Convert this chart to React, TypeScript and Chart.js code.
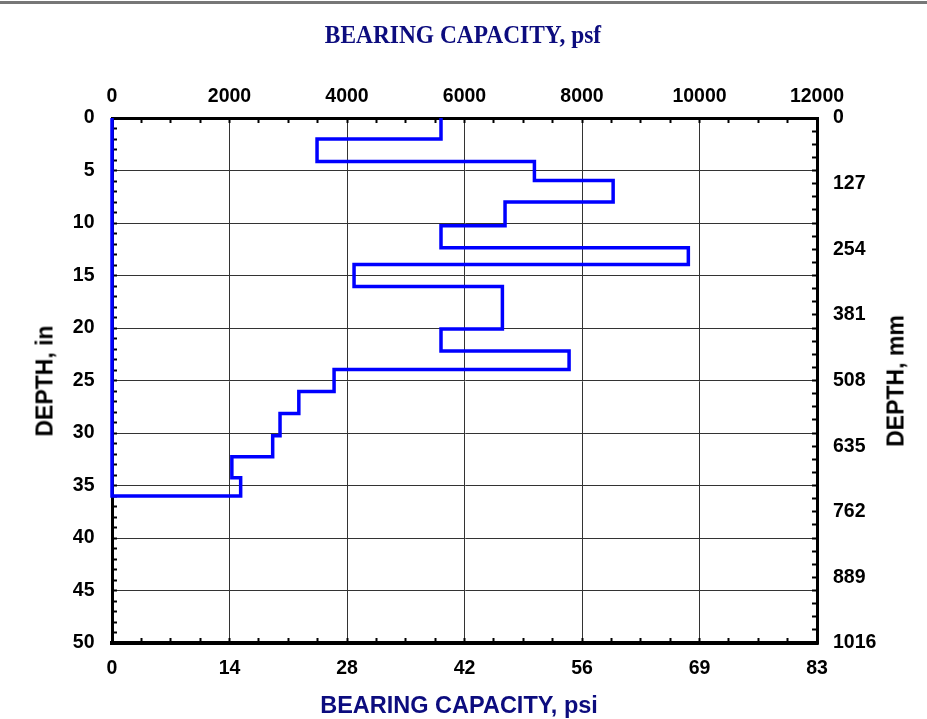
import React, { useEffect, useRef } from 'react';
import { Chart, registerables } from 'chart.js';

Chart.register(...registerables);

// ---- Data ----
// Depth layer boundaries, inches (top of each layer) and the final bottom depth
const layerTopIn = [0, 2, 4.15, 5.95, 8, 10.25, 12.35, 13.95, 16.05, 20.1, 22.2, 23.95, 26.05, 28.15, 30.25, 32.25, 34.25];
const finalDepthIn = 36;
// Bearing capacity of each layer, psf
const bearingPsf = [5600, 3490, 7190, 8530, 6690, 5600, 9810, 4120, 6645, 5600, 7780, 3780, 3180, 2860, 2735, 2040, 2190];

// ---- Axis ticks / labels ----
const psfMajorTicks = [0, 2000, 4000, 6000, 8000, 10000, 12000];
const psfMinorStep = 500;
const psiTickLabels = ['0', '14', '28', '42', '56', '69', '83'];
const depthMajorTicks = [0, 5, 10, 15, 20, 25, 30, 35, 40, 45, 50];
const depthMinorStep = 1;
const mmTickLabels = ['0', '127', '254', '381', '508', '635', '762', '889', '1016'];
const mmMax = 1016;
const mmMinorStep = 25.4;

const topTitle = 'BEARING CAPACITY, psf';
const bottomTitle = 'BEARING CAPACITY, psi';
const leftTitle = 'DEPTH, in';
const rightTitle = 'DEPTH, mm';

function buildStepProfile() {
  const pts: { x: number; y: number }[] = [];
  const n = bearingPsf.length;
  for (let i = 0; i < n; i++) {
    const top = layerTopIn[i];
    const bottom = i + 1 < n ? layerTopIn[i + 1] : finalDepthIn;
    pts.push({ x: bearingPsf[i], y: top });
    pts.push({ x: bearingPsf[i], y: bottom });
  }
  pts.push({ x: 0, y: finalDepthIn });
  pts.push({ x: 0, y: 0 });
  return pts;
}

function range(min: number, max: number, step: number) {
  const out: number[] = [];
  const count = Math.round((max - min) / step);
  for (let i = 0; i <= count; i++) out.push(Math.round((min + i * step) * 1000) / 1000);
  return out;
}

const NAVY = '#0c0c7e';
const GRID = '#333333';
const tickFont = { family: "'Liberation Sans', Arial, sans-serif", size: 19.5, weight: 'bold' as const };

export default function App() {
  const canvasRef = useRef<HTMLCanvasElement | null>(null);

  useEffect(() => {
    const canvas = canvasRef.current;
    if (!canvas) return;
    const psfMax = psfMajorTicks[psfMajorTicks.length - 1];
    const depthMax = depthMajorTicks[depthMajorTicks.length - 1];
    const psfTicks = range(0, psfMax, psfMinorStep);
    const depthTicks = range(0, depthMax, depthMinorStep);
    const mmTicks = range(0, mmMax, mmMinorStep);
    const isPsfMajor = (v: number) => psfMajorTicks.indexOf(v) >= 0;
    const isDepthMajor = (v: number) => depthMajorTicks.indexOf(v) >= 0;
    const mmMajorIndex = (v: number) => {
      const k = v / 127;
      return Math.abs(k - Math.round(k)) < 1e-6 ? Math.round(k) : -1;
    };

    const chart = new Chart(canvas, {
      type: 'scatter',
      data: {
        datasets: [
          {
            data: buildStepProfile(),
            showLine: true,
            borderColor: '#0000ff',
            backgroundColor: '#0000ff',
            borderWidth: 3.5,
            pointRadius: 0,
            pointHoverRadius: 0,
            fill: false,
            tension: 0,
            clip: false as any,
            xAxisID: 'x',
            yAxisID: 'y',
          } as any,
        ],
      },
      options: {
        responsive: false,
        animation: false,
        devicePixelRatio: 1,
        layout: { padding: 0 },
        events: [],
        plugins: {
          legend: { display: false },
          tooltip: { enabled: false },
          title: { display: false },
        },
        scales: {
          x: {
            type: 'linear',
            position: 'top',
            min: 0,
            max: psfMax,
            afterBuildTicks: (s: any) => {
              s.ticks = psfTicks.map((v) => ({ value: v }));
            },
            afterFit: (s: any) => {
              s.height = 118;
            },
            ticks: {
              autoSkip: false,
              maxRotation: 0,
              minRotation: 0,
              padding: 14.5,
              color: '#000',
              font: tickFont,
              callback: (v: any) => (isPsfMajor(Number(v)) ? String(v) : ''),
            },
            grid: {
              color: (c: any) => (c.tick && isPsfMajor(c.tick.value) ? GRID : 'rgba(0,0,0,0)'),
              lineWidth: 1,
              tickLength: -5,
              tickColor: '#000',
              tickWidth: 2,
            },
            border: { display: true, color: '#000', width: 3 },
          },
          x2: {
            type: 'linear',
            position: 'bottom',
            min: 0,
            max: psfMax,
            afterBuildTicks: (s: any) => {
              s.ticks = psfTicks.map((v) => ({ value: v }));
            },
            afterFit: (s: any) => {
              s.height = 76;
            },
            ticks: {
              autoSkip: false,
              maxRotation: 0,
              minRotation: 0,
              padding: 18.5,
              color: '#000',
              font: tickFont,
              callback: (v: any) => {
                const i = psfMajorTicks.indexOf(Number(v));
                return i >= 0 ? psiTickLabels[i] : '';
              },
            },
            grid: {
              drawOnChartArea: false,
              tickLength: -5,
              tickColor: '#000',
              tickWidth: 2,
            },
            border: { display: true, color: '#000', width: 4 },
          },
          y: {
            type: 'linear',
            position: 'left',
            reverse: true,
            min: 0,
            max: depthMax,
            afterBuildTicks: (s: any) => {
              s.ticks = depthTicks.map((v) => ({ value: v }));
            },
            afterFit: (s: any) => {
              s.width = 112;
            },
            ticks: {
              autoSkip: false,
              padding: 22.5,
              color: '#000',
              font: tickFont,
              callback: (v: any) => (isDepthMajor(Number(v)) ? String(v) : ''),
            },
            grid: {
              color: (c: any) => (c.tick && isDepthMajor(c.tick.value) ? GRID : 'rgba(0,0,0,0)'),
              lineWidth: 1,
              tickLength: -5,
              tickColor: '#000',
              tickWidth: 2,
            },
            border: { display: true, color: '#000', width: 3 },
          },
          y2: {
            type: 'linear',
            position: 'right',
            reverse: true,
            min: 0,
            max: mmMax,
            afterBuildTicks: (s: any) => {
              s.ticks = mmTicks.map((v) => ({ value: v }));
            },
            afterFit: (s: any) => {
              s.width = 110;
            },
            ticks: {
              autoSkip: false,
              padding: 21,
              color: '#000',
              font: tickFont,
              callback: (v: any) => {
                const i = mmMajorIndex(Number(v));
                return i >= 0 ? mmTickLabels[i] : '';
              },
            },
            grid: {
              drawOnChartArea: false,
              tickLength: -5,
              tickColor: '#000',
              tickWidth: 2,
            },
            border: { display: true, color: '#000', width: 3 },
          },
        },
      } as any,
    });
    return () => chart.destroy();
  }, []);

  const sans = "'Liberation Sans', Arial, sans-serif";
  const serif = "'Liberation Serif', 'Times New Roman', serif";
  const label = (
    text: string,
    cx: number,
    cy: number,
    font: string,
    size: number,
    color: string,
    transform: string
  ) => (
    <div
      style={{
        position: 'absolute',
        left: cx,
        top: cy,
        transform: `translate(-50%, -50%) ${transform}`,
        fontFamily: font,
        fontWeight: 'bold',
        fontSize: size,
        lineHeight: 1,
        color,
        whiteSpace: 'nowrap',
      }}
    >
      {text}
    </div>
  );

  return (
    <div
      style={{
        position: 'fixed',
        left: 0,
        top: 0,
        width: 927,
        height: 719,
        background: '#fff',
        overflow: 'hidden',
      }}
    >
      <div style={{ position: 'absolute', left: 0, top: 1, width: 927, height: 3, background: '#777' }} />
      <canvas ref={canvasRef} width={927} height={719} style={{ position: 'absolute', left: 0, top: 0, width: 927, height: 719 }} />
      {label(topTitle, 463, 34.5, serif, 26, NAVY, 'scaleX(0.9)')}
      {label(bottomTitle, 459, 705.5, sans, 23.5, NAVY, '')}
      {label(leftTitle, 45, 381, sans, 23, '#000', 'rotate(-90deg)')}
      {label(rightTitle, 896, 381, sans, 23, '#000', 'rotate(-90deg)')}
    </div>
  );
}
